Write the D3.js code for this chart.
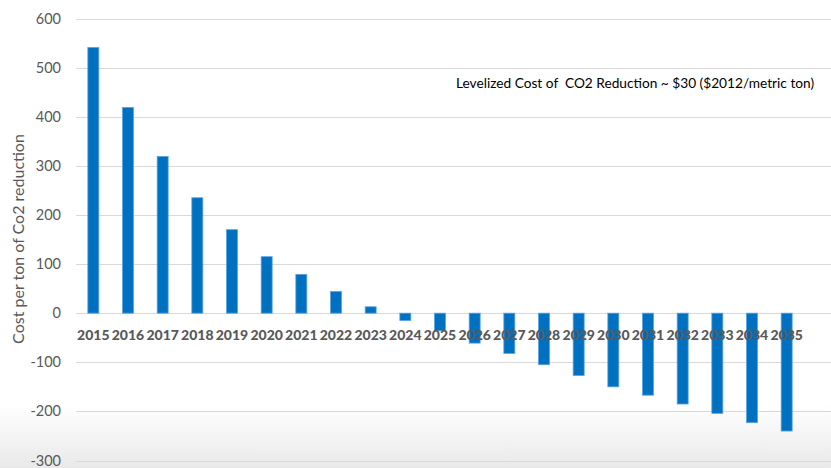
<!DOCTYPE html>
<html>
<head>
<meta charset="utf-8">
<script src="https://cdn.jsdelivr.net/npm/d3@7"></script>
<style>
  html, body { margin: 0; padding: 0; background: #fff; }
  svg { display: block; }
</style>
</head>
<body>
<svg id="chart" width="831" height="468"></svg>
<script>
// Cost per ton of CO2 reduction by year
const years = ["2015","2016","2017","2018","2019","2020","2021","2022","2023","2024","2025",
               "2026","2027","2028","2029","2030","2031","2032","2033","2034","2035"];
const costs = [541, 419, 319, 235, 170, 115, 79, 44, 13, -15, -36,
               -61, -82, -105, -127, -150, -167, -185, -204, -223, -240];
const yTicks = [-300, -200, -100, 0, 100, 200, 300, 400, 500, 600];
const yTitle = "Cost per ton of Co2 reduction";
const note = "Levelized Cost of  CO2 Reduction ~ $30 ($2012/metric ton)";

const W = 831, H = 468;
const font = "Lato, 'Open Sans', sans-serif";
const svg = d3.select("#chart");

// soft grey fade along the bottom of the canvas
const defs = svg.append("defs");
const grad = defs.append("linearGradient").attr("id", "fade")
  .attr("x1", 0).attr("y1", 0).attr("x2", 0).attr("y2", 1);
grad.append("stop").attr("offset", "0%").attr("stop-color", "#ffffff");
grad.append("stop").attr("offset", "100%").attr("stop-color", "#e9e9e9");
svg.append("rect").attr("x", 0).attr("y", 405).attr("width", W).attr("height", H - 405)
  .attr("fill", "url(#fade)");

const x = d3.scaleBand().domain(years).range([76, 804]).paddingInner(0.683).paddingOuter(0.3415);
const y = d3.scaleLinear().domain([-300, 600]).range([460.5, 18.5]);

// horizontal gridlines
svg.append("g").selectAll("line").data(yTicks).join("line")
  .attr("x1", 76).attr("x2", W)
  .attr("y1", d => Math.round(y(d)) + 0.5).attr("y2", d => Math.round(y(d)) + 0.5)
  .attr("stroke", "#d9d9d9").attr("stroke-width", 1);

// y tick labels
svg.append("g").selectAll("text").data(yTicks).join("text")
  .attr("x", 61).attr("y", d => y(d)).attr("dy", "0.35em")
  .attr("text-anchor", "end")
  .attr("font-family", font).attr("font-size", 14.5).attr("fill", "#595959")
  .text(d => d);

// bars
svg.append("g").selectAll("rect").data(years).join("rect")
  .attr("x", d => x(d))
  .attr("width", x.bandwidth())
  .attr("y", (d, i) => y(Math.max(0, costs[i])))
  .attr("height", (d, i) => Math.abs(y(costs[i]) - y(0)))
  .attr("fill", "#0070c0")
  .attr("stroke", "#5aa2e0").attr("stroke-width", 0.8);

// year labels, drawn over the bars
svg.append("g").selectAll("text").data(years).join("text")
  .attr("x", d => x(d) + x.bandwidth() / 2).attr("y", 339.5)
  .attr("text-anchor", "middle")
  .attr("font-family", font).attr("font-weight", 900).attr("font-size", 14)
  .attr("fill", "#595959")
  .text(d => d);

// y axis title
svg.append("text")
  .attr("transform", "translate(24,239) rotate(-90)")
  .attr("text-anchor", "middle")
  .attr("font-family", font).attr("font-size", 16).attr("fill", "#595959")
  .text(yTitle);

// annotation
svg.append("text")
  .attr("x", 456).attr("y", 88)
  .attr("font-family", font).attr("font-size", 13.7).attr("fill", "#000")
  .attr("xml:space", "preserve")
  .style("white-space", "pre")
  .text(note);
</script>
</body>
</html>
